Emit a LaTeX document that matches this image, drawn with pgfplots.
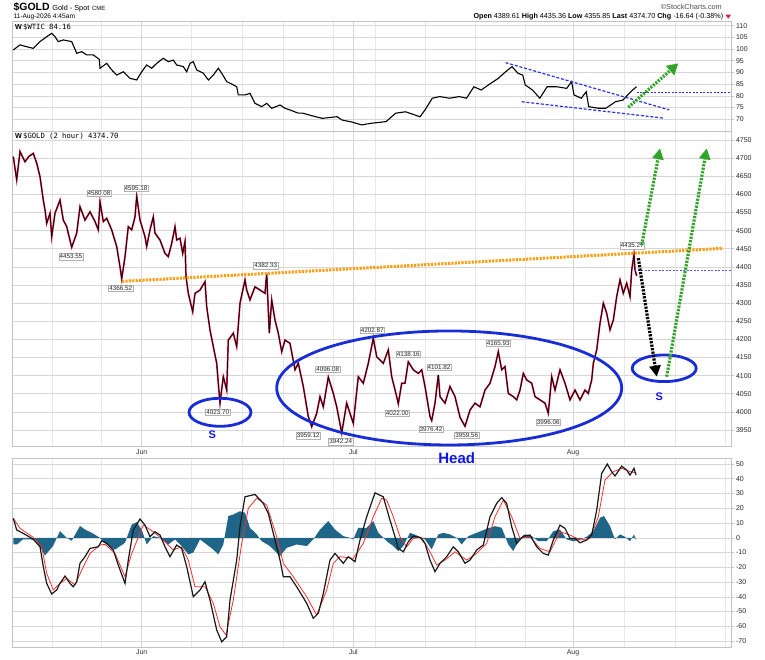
\documentclass[border=0pt]{standalone}
\usepackage{pgfplots}
\pgfplotsset{compat=1.18}
\usepackage{pgfplotstable}
\usepackage{fontspec}
\setmainfont{Liberation Sans}
\newfontfamily\monofont{DejaVu Sans Mono}
\usetikzlibrary{arrows.meta}
\definecolor{framec}{RGB}{195,195,195}
\definecolor{gridmaj}{RGB}{215,215,215}
\definecolor{gridmin}{RGB}{232,232,232}
\definecolor{goldred}{RGB}{225,30,75}
\definecolor{histc}{RGB}{31,101,135}
\definecolor{sigred}{RGB}{250,45,45}
\definecolor{ellblue}{RGB}{25,45,215}
\definecolor{txtblue}{RGB}{15,20,235}
\definecolor{dashblue}{RGB}{40,50,230}
\definecolor{orangec}{RGB}{250,160,20}
\definecolor{greenc}{RGB}{50,165,40}

\pgfplotstableread{
x y
13.3 99.6
20 101.8
26.7 101
33.3 100.3
40 103.2
46.7 105.3
51.7 106.7
55 105.3
58.3 103.2
63.3 103.9
71.7 103.2
76.7 98.2
81.7 98.9
86.7 97.5
93.3 97.5
99.3 95.6
100 91.8
106.7 93.9
111.7 91.1
116.7 88.9
123.3 90.3
130 87.5
136.7 86.8
141.7 90.3
146.7 93.2
151.7 91.8
156.7 93.9
163.3 96.1
168.3 94.6
173.3 95.3
176.7 93.2
183.3 92.5
186.7 90.3
190 93.9
193.3 94.6
196.7 91.1
203.3 89.7
208.3 86.8
213.3 88.9
218.3 91.8
221.7 89.7
226.7 86.1
233.3 84.7
236.7 83.9
238.3 80.4
245 80.4
250 81.1
255 76.8
261.7 75.4
266.7 76.8
271.7 74.7
280 76.1
285 74.7
290 74.0
298.3 72.6
302.9 72.6
312 71.5
322.4 70.4
337 71.1
342 69.7
352 68.8
361.5 67.6
371.3 68.3
386 69.0
395.7 72.6
405.5 73.2
415.2 71.8
420.1 71.1
425 74.0
432.3 79.0
439.7 79.7
449.4 79.0
459.2 79.7
466.5 79.0
473.9 83.9
481.2 82.5
488.5 84.7
498.3 87.5
505.6 90.3
512 92.5
517.8 89.7
522.7 88.9
525.2 84.7
532.5 82.5
539.8 79.0
547.1 83.9
556.9 83.9
566.7 83.2
571.6 86.1
574 80.4
581.3 79.0
586.2 81.8
588.7 75.4
598.4 74.7
605.8 74.7
615.5 77.5
622.9 78.2
627.7 80.4
632.6 82.5
636.5 83.9
}\wtic

\pgfplotstableread{
x y
13.3 4704
16.7 4640
20 4718
25 4690
29 4705
33.3 4713
36.7 4686
40 4649
43.3 4584
45 4557
46.7 4520
50 4548
51.7 4483
55 4548
60 4584
63.3 4529
66.7 4511
71.7 4454
76.7 4493
80 4566
85 4529
90 4552
95 4525
98.3 4502
100 4580
103.3 4525
106.7 4534
111.7 4502
116.7 4456
120 4400
121.7 4367
125 4428
128.3 4511
131.7 4502
135 4538
136.7 4595
140 4529
145 4483
146.7 4456
150 4502
153.3 4538
155 4493
160 4474
165 4437
168.3 4428
171.7 4465
175 4511
176.7 4474
180 4479
182.7 4437
185 4470
186 4373
188.3 4327
192.7 4276
195 4327
200 4336
205 4359
206.7 4290
210 4226
213.3 4180
216.7 4134
218.3 4079
220 4024
223.3 4097
226.7 4060
228.3 4198
233.3 4217
236.7 4180
240 4300
245 4364
246.7 4336
250 4309
255 4345
260 4336
265 4327
266.7 4382
269.3 4217
271.7 4309
275 4253
278.3 4217
281.7 4166
285 4198
290 4189
295 4116
298.3 4134
303.3 4070
308.3 3987
311.7 3959
316.7 3996
320 4042
323.3 4014
328.3 4096
333.3 4051
336.7 4014
341.7 3942
346.7 4024
350 3996
353.3 3968
358.3 4097
363.3 4079
368.3 4134
373.3 4203
376.7 4152
383.3 4134
388.3 4171
391.7 4097
396.7 4042
398.3 4022
401.7 4079
405 4079
408.3 4138
413.3 4116
418.3 4106
421.7 4116
425 4070
430 3987
431.7 3976
435 4024
438.3 4102
440 4042
445 4024
450 4070
455 4042
460 3985
465 3960
470 4005
475 4024
480 4014
485 4060
490 4079
495 4125
498.3 4166
501.7 4116
505 4125
508.3 4051
513.3 4042
516.7 4033
520 4060
523.3 4106
526.7 4088
531.7 4079
535 4042
540 4033
545 4024
548.3 3996
551.7 4097
555 4060
560 4116
565 4079
570 4033
575 4060
580 4033
585 4060
588.3 4051
591.7 4088
593.3 4134
596.7 4171
600 4244
603.3 4300
606.7 4272
610 4226
613.3 4253
616.7 4318
620 4364
623.3 4327
626.7 4355
630 4318
631.7 4391
634 4435
635 4391
636.7 4375
}\gold

\pgfplotstableread{
x y
13.3 13.2
16.7 5.3
23.3 3.0
33.3 -1.0
40 -6.1
43.3 -19.6
46.7 -30.9
51.7 -38.1
56.7 -35.4
60 -30.9
65 -25.9
70 -30.9
73.3 -33.2
76.7 -29.8
80 -17.3
85 -12.8
90 -7.2
98.3 -6.1
101.7 -2.0
106.7 -3.8
113.3 -8.3
118.3 -18.5
125 -30.9
128.3 -15.1
133.3 5.3
140 12.7
145 8.6
150 0.7
155 4.1
160 1.9
165 -6.1
170 -12.8
176.7 -4.9
181.7 -7.2
186.7 -19.6
193.3 -40.0
200 -35.4
205 -29.8
210 -42.2
216.7 -62.5
221.7 -70.5
226.7 -67.1
230 -42.2
236.7 -15.1
240 7.5
245 27.8
255 29.4
263.3 23.4
268.3 16.6
273.3 3.0
280 -15.1
283.3 -26.4
290 -26.4
296.7 -33.2
306.7 -44.4
313.3 -54.6
318.3 -51.2
323.3 -37.7
330 -15.1
335 -10.6
343.3 -17.3
348.3 -12.8
355 -16.2
360 -1.5
366.7 14.3
375 30.5
383.3 27.8
390 12.0
395 0.7
398.3 -7.2
403.3 -9.5
408.3 -2.7
413.3 1.2
420 0.3
425 -3.8
430 -15.1
435 -23.0
440 -17.3
446.7 -12.8
453.3 -6.1
458.3 -9.5
465 -17.3
470 -15.1
476.7 -8.3
483.3 -4.9
490 14.3
496.7 23.4
501.7 27.2
506.7 23.4
511.7 7.5
516.7 -3.8
523.3 1.2
530 1.9
536.7 -6.1
543.3 -10.6
548.3 -11.7
553.3 -1.5
560 8.6
565 6.4
570 -0.4
575 -0.4
580 -3.4
586.7 -1.5
591.7 1.9
596.7 18.8
601.7 43.7
607.3 50.0
611.7 44.8
615 41.9
621.7 48.6
626.7 45.9
630 42.5
634 47.1
636 42.5
}\macd

\pgfplotstableread{
x y
13.3 13.2
20 6.4
33.3 0.3
41.7 -6.1
46.7 -24.1
53.3 -35.4
58.3 -32
66.7 -27.5
75 -32
81.7 -21.9
90 -10.6
100 -4.9
105 -4.4
115 -10.6
125 -26.4
131.7 -10.6
143.3 8.6
153.3 4.1
163.3 -1.5
173.3 -8.3
181.7 -6.1
188.3 -15.1
195 -33.2
205 -33.2
213.3 -44.4
220 -60.3
226 -65.9
233.3 -42.2
241.7 -3.8
248.3 20
256.7 26.8
266.7 22.2
276.7 0.7
283.3 -17.3
293.3 -26.4
306.7 -40.0
316.7 -52.4
326.7 -35.4
333.3 -17.3
340 -12.8
353.3 -13.9
363.3 -3.8
373.3 14.3
381.7 26.8
386.7 25.6
393.3 14.3
400 0.7
406.7 -6.1
413.3 -0.4
421.7 0.3
430 -9.5
436.7 -18.5
445 -15.1
455 -9.5
466.7 -15.1
476.7 -10.6
486.7 -3.8
495 14.3
503.3 25.6
511.7 14.3
520 -0.4
530 0.7
540 -7.2
550 -9.5
560 4.1
570 1.9
580 -1.5
590 -0.4
598.3 14.3
605 39.2
613.3 44.8
621.7 47.1
630 44.8
636 44.1
}\signal

\pgfplotstableread{
x y
13.3 0
13.3 -4.5
17 -4.5
23 -1
30 -1
36.7 -2
45 -12
53 -5.6
60 4.5
66.7 0
71.7 -2
80 8
85 5.6
91.7 3.4
100 0
106.7 -4.5
115 -8
125 -3.4
131.7 9
136.7 10.6
141.7 5.6
146.7 -4.5
153.3 1.1
160 0
168.3 -4.5
175 -1.1
181.7 -5.6
188.3 -11.3
193.3 -10
200 -1.1
206.7 -4.5
213.3 -8
218.3 -11.3
223.3 -4.5
228.3 14.7
233.3 15.8
240 18
245 17
250 6.8
256.7 2.3
261.7 -2.3
270 -5.6
280 -12.4
286.7 -6.8
296.7 -4.5
306.7 -5.6
313.3 -1.1
320 5.6
328.3 11.3
335 5.6
343.3 1.1
350 0
353.3 -1.1
358.3 6.8
366.7 6.8
373.3 11.3
378.3 3.4
386.7 -2.3
393.3 -5.6
398.3 -9
403.3 -5.6
410 3.4
416.7 1.6
425 -1.1
431.7 -7.9
438.3 2.3
443.3 3.4
450 2.3
456.7 0
461.7 -4.5
468.3 1.1
476.7 3.4
486.7 6.1
495 7.9
501.7 6.8
508.3 -4.5
513.3 -9
518.3 -2.3
525 2.3
531.7 1.1
538.3 -2.3
546.7 -2.3
553.3 4.5
560 5.6
566.7 -1.1
573.3 -2.3
580 -1.1
586.7 0.7
593.3 4.5
600 13.6
604 14.7
610 7.9
615 -1.1
620 2.3
625 0.7
630 -2.3
634 2.3
636 -1.6
636 0
}\hist

\pgfplotsset{
  panel/.style={
    scale only axis, width=718.7pt, xmin=12.3, xmax=731,
    axis line style={draw=framec, line width=0.8pt},
    xtick={141.7,353.3,573},
    minor xtick={52.3,101.7,191.7,242.3,283.3,333.3,375.7,425.7,475,525,624.3,675,725},
    xmajorgrids, xminorgrids, ymajorgrids,
    major grid style={draw=gridmaj, line width=0.6pt},
    minor grid style={draw=gridmin, line width=0.6pt},
    xtick style={draw=none},
    minor tick length=0pt,
    ytick pos=right, yticklabel pos=right, ytick align=outside,
    ytick style={draw=framec, line width=0.6pt},
    major tick length=2.5pt,
    yticklabel style={font=\fontsize{7}{8}\selectfont, text=black!85, xshift=-1pt},
    xticklabel style={font=\fontsize{7}{8}\selectfont, text=black!80},
    /pgf/number format/assume math mode=true,
    /pgf/number format/1000 sep={},
    clip=false,
  },
}
\tikzset{lbl/.style={draw=black!30, fill=white, inner sep=0.8pt, font=\fontsize{6.3}{7}\selectfont, text=black!85}}

\begin{document}
\begin{tikzpicture}[x=1pt,y=1pt]
\useasboundingbox (0pt,0pt) rectangle (765pt,660pt);

% ---------- top panel: WTIC ----------
\begin{axis}[panel, at={(12.3pt,528.3pt)}, anchor=south west, height=110pt,
  ymin=64.7, ymax=111.7, ytick={70,75,...,110}, xticklabels={}]
\addplot[black, line width=1.1pt] table[x=x,y=y] {\wtic};
\draw[dashblue, line width=1.2pt, dash pattern=on 3pt off 1.8pt] (axis cs:505.6,94.2) -- (axis cs:669.3,74.0);
\draw[dashblue, line width=1.2pt, dash pattern=on 3pt off 1.8pt] (axis cs:521.7,77.5) -- (axis cs:663.4,70.5);
\draw[dashblue, line width=0.7pt, dash pattern=on 2pt off 1.5pt] (axis cs:636.7,81.7) -- (axis cs:731,81.7);
\draw[greenc, line width=3.2pt, dash pattern=on 2pt off 1.3pt, -{Triangle[length=11pt,width=12pt]}] (axis cs:628.3,75.1) -- (axis cs:678.3,93.9);
\end{axis}

% ---------- middle panel: GOLD ----------
\begin{axis}[panel, at={(12.3pt,213.3pt)}, anchor=south west, height=315pt,
  ymin=3903.9, ymax=4772.9, ytick={3950,4000,...,4750}, xticklabels={Jun,Jul,Aug},
  xticklabel style={yshift=1pt}]
\addplot[goldred, line width=1.7pt] table[x=x,y=y] {\gold};
\addplot[black, line width=0.75pt] table[x=x,y=y] {\gold};
% neckline
\draw[orangec, line width=3pt, dash pattern=on 2.2pt off 1.2pt] (axis cs:122,4360) -- (axis cs:723,4451);
% open level
\draw[dashblue!80, line width=0.6pt, dash pattern=on 2pt off 1.5pt] (axis cs:634,4389.5) -- (axis cs:731,4389.5);
% ellipses
\draw[ellblue, line width=2.8pt] (axis cs:220,3998.8) ellipse [x radius=31pt, y radius=14pt];
\draw[ellblue, line width=2.8pt] (axis cs:449.2,4065.9) ellipse [x radius=172.5pt, y radius=57pt];
\draw[ellblue, line width=2.8pt] (axis cs:664.2,4120.2) ellipse [x radius=32pt, y radius=13.3pt];
% price labels
\node[lbl] at (axis cs:99,4602.9) {4580.08};
\node[lbl] at (axis cs:136,4616.8) {4595.18};
\node[lbl] at (axis cs:71,4428.1) {4453.55};
\node[lbl] at (axis cs:120.7,4340.9) {4366.52};
\node[lbl] at (axis cs:265.7,4403.2) {4382.33};
\node[lbl] at (axis cs:217.7,3998.8) {4023.70};
\node[lbl] at (axis cs:308.3,3934.3) {3959.12};
\node[lbl] at (axis cs:340.7,3917.7) {3942.24};
\node[lbl] at (axis cs:327.7,4118.3) {4096.08};
\node[lbl] at (axis cs:372.3,4225.9) {4202.87};
\node[lbl] at (axis cs:397.3,3996.1) {4022.00};
\node[lbl] at (axis cs:408.3,4158.8) {4138.16};
\node[lbl] at (axis cs:431,3952.8) {3976.42};
\node[lbl] at (axis cs:439,4123.0) {4101.82};
\node[lbl] at (axis cs:466.7,3936.2) {3959.56};
\node[lbl] at (axis cs:498.3,4189.2) {4165.93};
\node[lbl] at (axis cs:548.3,3971.2) {3996.06};
\node[lbl] at (axis cs:632.3,4458.4) {4435.27};
% arrows
\draw[black, line width=3.2pt, dash pattern=on 2.2pt off 1.3pt, -{Triangle[length=11pt,width=11pt]}] (axis cs:638.3,4424) -- (axis cs:656.7,4097);
\draw[greenc, line width=3.2pt, dash pattern=on 2.2pt off 1.3pt, -{Triangle[length=11pt,width=11pt]}] (axis cs:641.7,4460) -- (axis cs:660,4727);
\draw[greenc, line width=3.2pt, dash pattern=on 2.2pt off 1.3pt, -{Triangle[length=11pt,width=11pt]}] (axis cs:666.7,4097) -- (axis cs:706.7,4727);
\end{axis}

% ---------- bottom panel: MACD ----------
\begin{axis}[panel, at={(12.3pt,12.3pt)}, anchor=south west, height=189.4pt,
  ymin=-74.5, ymax=53.9, ytick={-70,-60,...,50}, xticklabels={Jun,Jul,Aug},
  xticklabel style={yshift=1.5pt}]
\addplot[fill=histc, draw=none] table[x=x,y=y] {\hist};
\addplot[sigred, line width=0.8pt] table[x=x,y=y] {\signal};
\addplot[black!90, line width=1.2pt] table[x=x,y=y] {\macd};
\end{axis}

% ---------- texts ----------
\node[anchor=west, inner sep=0] at (13.3pt,653pt) {{\fontsize{10.5}{12}\selectfont\bfseries \$GOLD} {\fontsize{7.3}{9}\selectfont Gold - Spot} {\fontsize{6}{7}\selectfont CME}};
\node[anchor=west, inner sep=0] at (13.3pt,643.3pt) {\fontsize{6.6}{8}\selectfont 11-Aug-2026 4:45am};
\node[anchor=east, inner sep=0, text=black!70] at (722pt,653.3pt) {\fontsize{7.3}{9}\selectfont \textcopyright StockCharts.com};
\node[anchor=east, inner sep=0] at (723.5pt,643.3pt) {\fontsize{7.2}{9}\selectfont \textbf{Open} 4389.61 \textbf{High} 4435.36 \textbf{Low} 4355.85 \textbf{Last} 4374.70 \textbf{Chg} -16.64 (-0.38\%)};
\fill[goldred] (725.5pt,645.3pt) -- (731pt,645.3pt) -- (728.25pt,641.3pt) -- cycle;
\node[anchor=west, inner sep=0] at (15pt,632.7pt) {\fontsize{7.2}{9}\selectfont\textbf{W}\,\monofont \$WTIC 84.16};
\node[anchor=west, inner sep=0] at (15pt,523.3pt) {\fontsize{7.2}{9}\selectfont\textbf{W}\,\monofont \$GOLD (2 hour) 4374.70};
\node[text=txtblue, font=\fontsize{11}{12}\selectfont\bfseries] at (212.3pt,225pt) {S};
\node[text=txtblue, font=\fontsize{11}{12}\selectfont\bfseries] at (659.3pt,263.3pt) {S};
\node[text=txtblue, font=\fontsize{15}{16}\selectfont\bfseries] at (456.7pt,202.3pt) {Head};
\end{tikzpicture}
\end{document}
